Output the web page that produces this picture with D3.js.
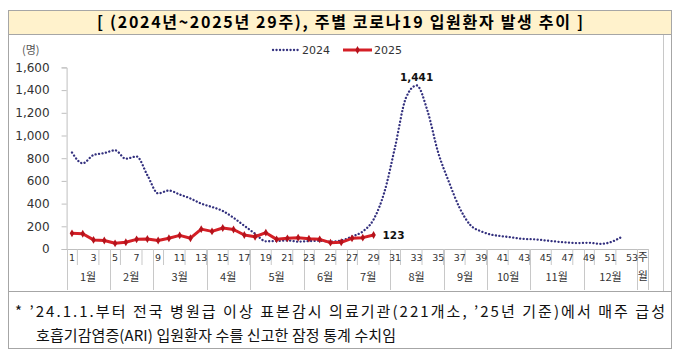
<!DOCTYPE html>
<html>
<head>
<meta charset="utf-8">
<script src="https://cdn.jsdelivr.net/npm/d3@7"></script>
<style>
  body { margin: 0; background: #fff; }
  svg { display: block; }
</style>
</head>
<body>
<div id="container"></div>
<script>
// weekly covid-19 inpatients, 2024 vs 2025 (week 29)

const weeks = ["1","2","3","4","5","6","7","8","9","10","11","12","13","14","15","16","17","18","19","20",
  "21","22","23","24","25","26","27","28","29","30","31","32","33","34","35","36","37","38","39","40",
  "41","42","43","44","45","46","47","48","49","50","51","52","53","주"]
const monthNames = ["1월","2월","3월","4월","5월","6월","7월","8월","9월","10월","11월","12월","월"]
const monthFirstWeek = ["1","5","9","14","18","23","27","31","36","40","44","49","주"]
const monthLastWeek = ["4","8","13","17","22","26","30","35","39","43","48","53","주"]

const values2024 = [850,755,828,845,870,795,815,650,490,515,480,445,400,370,335,275,205,135,68,70,
  75,65,70,72,65,75,110,155,260,500,900,1330,1441,1220,850,590,360,210,155,125,
  112,100,88,85,75,65,57,52,55,45,60,105]
const values2025 = [138,135,80,75,50,60,85,88,75,95,120,95,175,155,185,172,123,108,144,85,
  94,100,91,85,56,59,94,100,123]
const yTicks = [0,200,400,600,800,1000,1200,1400,1600]

const width = 680, height = 361
const svg = d3.select("#container").append("svg")
    .attr("width", width)
    .attr("height", height)

const kr = "'Noto Sans CJK KR', sans-serif"
const num = "'DejaVu Sans', sans-serif"

// frame: title band, chart area, footnote box
svg.append("rect").attr("x", 8.5).attr("y", 10.5).attr("width", 663).attr("height", 24)
    .attr("fill", "#fff2cc").attr("stroke", "#a6a6a6")
svg.append("rect").attr("x", 8.5).attr("y", 34.5).attr("width", 663).attr("height", 257)
    .attr("fill", "none").attr("stroke", "#a6a6a6")
svg.append("line").attr("x1", 663.5).attr("x2", 663.5).attr("y1", 35).attr("y2", 291)
    .attr("stroke", "#c8c8c8")
svg.append("rect").attr("x", 8.5).attr("y", 291.5).attr("width", 663).attr("height", 57)
    .attr("fill", "none").attr("stroke", "#a6a6a6")

svg.append("text")
    .attr("x", 340).attr("y", 28)
    .attr("text-anchor", "middle")
    .attr("font-family", kr).attr("font-weight", "bold").attr("font-size", 16)
    .attr("textLength", 486).attr("lengthAdjust", "spacing")
    .text("[ (2024년~2025년 29주), 주별 코로나19 입원환자 발생 추이 ]")

svg.append("text")
    .attr("x", 15).attr("y", 317)
    .attr("font-family", kr).attr("font-size", 15).attr("fill", "#111")
    .attr("textLength", 650).attr("lengthAdjust", "spacing")
    .text("* ’24.1.1.부터 전국 병원급 이상 표본감시 의료기관(221개소, ’25년 기준)에서 매주 급성")
svg.append("text")
    .attr("x", 36).attr("y", 341)
    .attr("font-family", kr).attr("font-size", 15).attr("fill", "#111")
    .attr("textLength", 360).attr("lengthAdjust", "spacing")
    .text("호흡기감염증(ARI) 입원환자 수를 신고한 잠정 통계 수치임")

// scales
const x = d3.scaleBand().domain(weeks).range([66.6, 648.2]).padding(0)
const cx = w => x(w) + x.bandwidth() / 2
const y = d3.scaleLinear().domain([0, 1600]).range([249, 67.4])

// y axis
const yAxis = svg.append("g")
    .attr("transform", "translate(66.6,0)")
    .call(d3.axisLeft(y).tickValues(yTicks).tickFormat(d3.format(",")).tickSize(5).tickPadding(12))
yAxis.select(".domain").attr("stroke", "#bfbfbf")
yAxis.selectAll(".tick line").attr("stroke", "#bfbfbf")
yAxis.selectAll("text").attr("font-family", num).attr("font-size", 12).attr("fill", "#333")

svg.append("text").attr("x", 22).attr("y", 54)
    .attr("font-family", kr).attr("font-size", 11).attr("fill", "#555")
    .text("(명)")

// x axis (two level: weeks / months)
const xg = svg.append("g").attr("id", "x-axis")
xg.append("line").attr("x1", 66.6).attr("x2", 648.2).attr("y1", 249.5).attr("y2", 249.5)
    .attr("stroke", "#bfbfbf")

// short ticks after every odd week
xg.selectAll(".wtick")
    .data(weeks.filter((w, i) => i % 2 === 0 && i < 53))
    .enter().append("line")
    .attr("x1", w => x(w) + x.bandwidth()).attr("x2", w => x(w) + x.bandwidth())
    .attr("y1", 249).attr("y2", 265)
    .attr("stroke", "#c8c8c8")

// month separators
xg.selectAll(".mtick")
    .data(monthFirstWeek)
    .enter().append("line")
    .attr("x1", w => Math.round(x(w)) + 0.5).attr("x2", w => Math.round(x(w)) + 0.5)
    .attr("y1", 249).attr("y2", 290)
    .attr("stroke", "#c8c8c8")
xg.append("line").attr("x1", 648.5).attr("x2", 648.5).attr("y1", 249).attr("y2", 290)
    .attr("stroke", "#c8c8c8")

xg.selectAll(".wlabel")
    .data(weeks.filter((w, i) => i % 2 === 0 || w === "주"))
    .enter().append("text")
    .attr("x", w => cx(w)).attr("y", 261)
    .attr("text-anchor", "middle")
    .attr("font-family", w => w === "주" ? kr : num)
    .attr("font-size", w => w === "주" ? 11 : 9.5)
    .attr("fill", "#333")
    .text(w => w)

xg.selectAll(".mlabel")
    .data(monthNames)
    .enter().append("text")
    .attr("x", (m, i) => (x(monthFirstWeek[i]) + x(monthLastWeek[i]) + x.bandwidth()) / 2)
    .attr("y", (m, i) => m === "월" ? 280 : 281)
    .attr("text-anchor", "middle")
    .attr("font-family", kr).attr("font-size", 11).attr("fill", "#333")
    .text(m => m)

// lines
const line = d3.line()
    .x((d, i) => cx(weeks[i]))
    .y(d => y(d))

svg.append("path")
    .datum(values2024)
    .attr("d", line.curve(d3.curveMonotoneX))
    .attr("fill", "none")
    .attr("stroke", "#33307e")
    .attr("stroke-width", 2.3)
    .attr("stroke-linecap", "round")
    .attr("stroke-dasharray", "0.1 3.4")

svg.append("path")
    .datum(values2025)
    .attr("d", line.curve(d3.curveLinear))
    .attr("fill", "none")
    .attr("stroke", "#d41f26")
    .attr("stroke-width", 3)
    .attr("stroke-linejoin", "round")

const diamond = d3.symbol().type(d3.symbolDiamond).size(18)
svg.append("g").selectAll("path")
    .data(values2025)
    .enter().append("path")
    .attr("d", diamond)
    .attr("transform", (d, i) => `translate(${cx(weeks[i])},${y(d)})`)
    .attr("fill", "#b5121b")

// data labels
const peak = values2024.indexOf(d3.max(values2024))
svg.append("text")
    .attr("x", cx(weeks[peak])).attr("y", y(values2024[peak]) - 4)
    .attr("text-anchor", "middle")
    .attr("font-family", num).attr("font-weight", "bold").attr("font-size", 10.5).attr("fill", "#111")
    .text(d3.format(",")(values2024[peak]))

const last = values2025.length - 1
svg.append("text")
    .attr("x", cx(weeks[last]) + 9).attr("y", y(values2025[last]) + 4)
    .attr("font-family", num).attr("font-weight", "bold").attr("font-size", 10.5).attr("fill", "#111")
    .text(values2025[last])

// legend
const legend = svg.append("g").attr("id", "legend")
legend.append("line").attr("x1", 273).attr("x2", 298).attr("y1", 50).attr("y2", 50)
    .attr("stroke", "#33307e").attr("stroke-width", 2.3)
    .attr("stroke-linecap", "round").attr("stroke-dasharray", "0.1 3.4")
legend.append("text").attr("x", 302).attr("y", 54)
    .attr("font-family", num).attr("font-size", 11).attr("fill", "#333").text("2024")
legend.append("line").attr("x1", 343).attr("x2", 372).attr("y1", 50).attr("y2", 50)
    .attr("stroke", "#d41f26").attr("stroke-width", 3)
legend.append("path").attr("d", diamond).attr("transform", "translate(357.5,50)").attr("fill", "#b5121b")
legend.append("text").attr("x", 374).attr("y", 54)
    .attr("font-family", num).attr("font-size", 11).attr("fill", "#333").text("2025")
</script>
</body>
</html>
